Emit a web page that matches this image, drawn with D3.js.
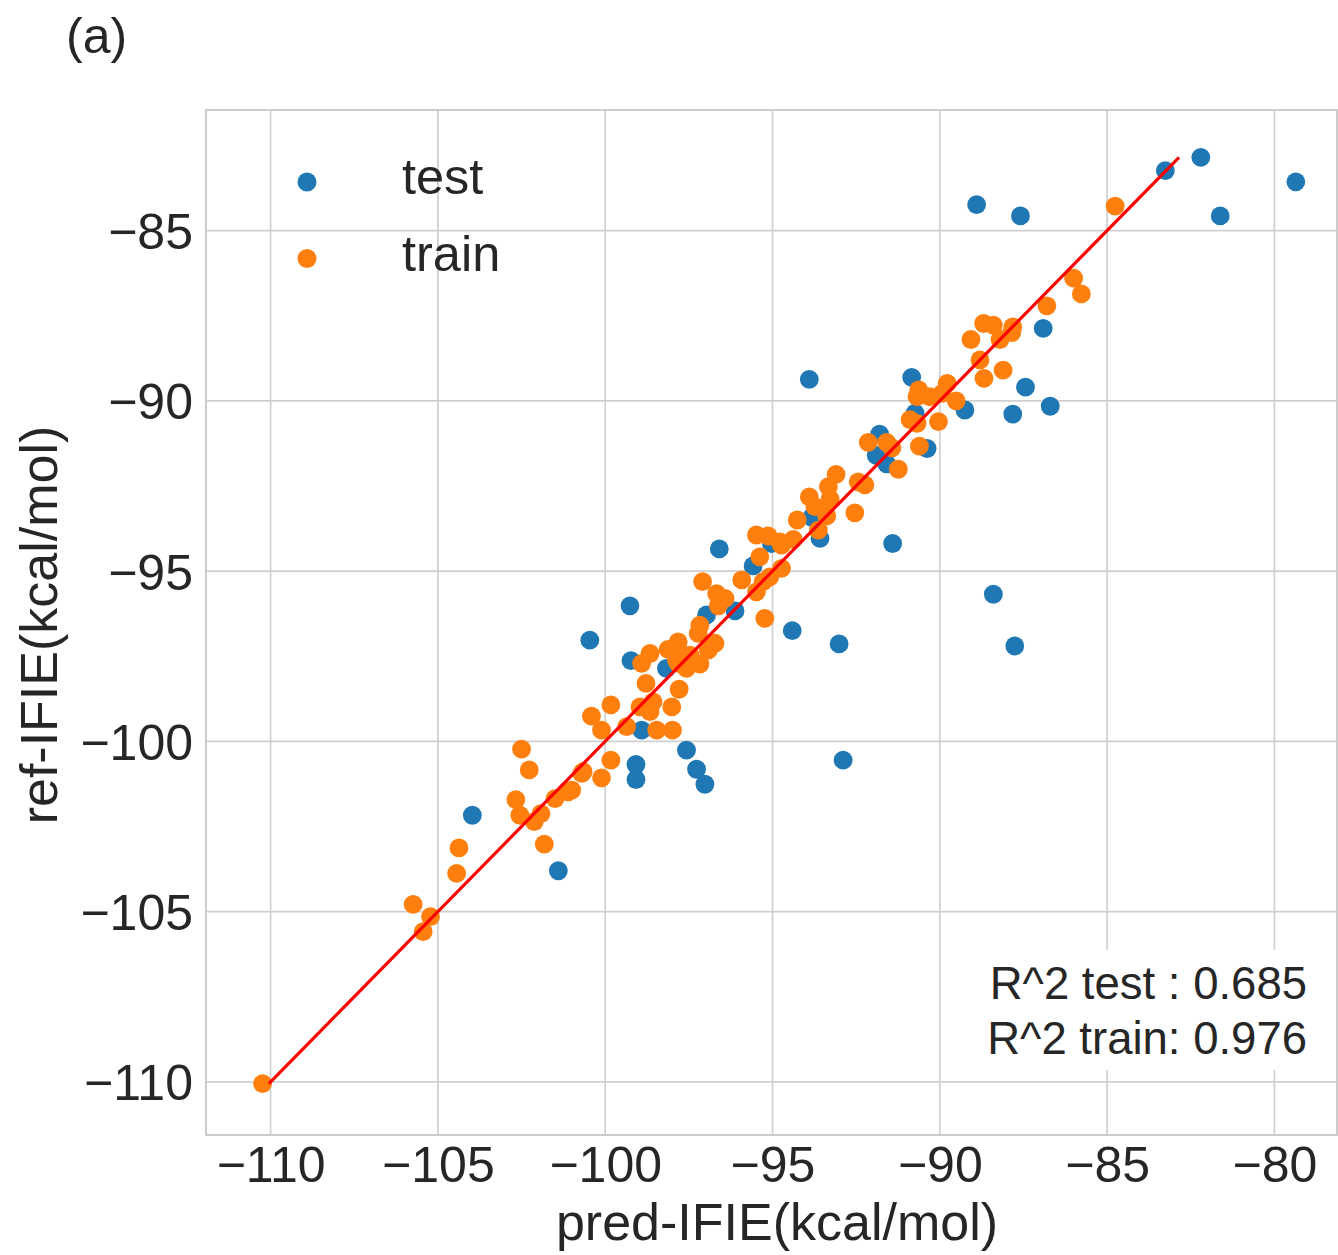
<!DOCTYPE html>
<html>
<head>
<meta charset="utf-8">
<script src="https://cdn.jsdelivr.net/npm/d3@7"></script>
<style>
  html, body { margin: 0; padding: 0; background: #fff; }
  svg { display: block; }
  text { font-family: "Liberation Sans", Arial, Helvetica, sans-serif; fill: #262626; }
</style>
</head>
<body>
<svg id="chart" width="1338" height="1255"></svg>
<script>
// Predicted vs reference IFIE (kcal/mol), test and train sets
const testPred = [
  -83.26, -82.20, -79.36, -81.62, -88.90, -87.59, -86.91, -93.90, -90.84, -87.44,
  -86.70, -87.82, -89.25, -90.74, -91.80, -90.38, -91.90, -91.59, -91.41, -88.40,
  -87.76, -94.41, -93.01, -93.58, -93.83, -96.59, -95.58, -95.03, -96.12, -96.97,
  -99.26, -100.46, -99.23, -98.17, -98.91, -97.57, -97.27, -97.02, -99.08, -99.08,
  -103.97, -101.40, -92.89
];
const testRef = [
  -83.24, -82.85, -83.57, -84.57, -84.24, -84.57, -87.87, -89.37, -89.31, -89.60,
  -90.16, -90.39, -90.27, -90.36, -90.98, -91.40, -91.60, -91.85, -94.19, -95.68,
  -97.20, -96.75, -97.14, -94.04, -93.42, -94.35, -94.85, -94.19, -96.17, -96.29,
  -96.02, -97.03, -97.63, -97.86, -99.67, -100.26, -100.82, -101.26, -100.68, -101.12,
  -102.17, -103.80, -100.55
];

const trainPred = [
  -84.76, -86.00, -85.77, -86.80, -88.69, -88.40, -87.82, -87.85, -88.20, -89.07,
  -88.80, -88.11, -88.68, -89.78, -90.63, -90.68, -90.31, -89.93, -89.51, -90.89,
  -90.68, -90.04, -92.14, -91.59, -91.43, -90.61,
  -91.24, -93.10, -93.33, -92.44, -92.24, -93.90, -93.28, -93.73, -92.54, -93.38,
  -94.26, -93.63, -94.38, -94.73, -94.73,
  -95.48, -95.13, -94.78, -95.38, -95.08, -95.28, -95.92, -95.48, -97.09, -96.67,
  -96.42, -96.62, -95.23, -97.17, -97.22, -96.72, -96.92, -97.82, -98.12, -97.47,
  -97.17, -97.82,
  -98.66, -98.91, -97.87, -97.57, -97.57, -98.78, -97.79, -98.57, -98.96, -98.66,
  -98.01, -99.83, -100.41, -100.11, -99.36, -98.46, -97.99, -99.83, -100.66, -100.11,
  -101.00,
  -102.50, -102.27, -100.70, -101.11, -101.50, -102.67, -101.92, -102.55, -102.12, -101.82,
  -104.37, -104.44,
  -105.74, -105.22, -105.44, -110.24
];
const trainRef = [
  -84.28, -86.40, -86.86, -87.21, -87.73, -87.78, -87.83, -88.00, -88.20, -88.20,
  -88.80, -89.10, -89.34, -89.49, -89.68, -89.88, -89.88, -89.78, -90.00, -90.55,
  -90.66, -90.61, -91.22, -91.22, -91.38, -91.33,
  -92.01, -92.16, -92.52, -92.38, -92.47, -92.82, -92.89, -93.11, -93.29, -93.38,
  -93.50, -93.80, -94.07, -94.24, -94.92,
  -93.94, -93.97, -94.14, -94.58, -95.17, -95.31, -95.26, -95.61, -95.31, -95.66,
  -95.80, -96.02, -96.39, -96.59, -96.83, -97.12, -97.32, -97.08, -97.30, -97.47,
  -97.73, -97.71,
  -97.42, -97.71, -97.61, -97.56, -97.86, -98.30, -98.47, -98.84, -98.99, -99.13,
  -98.99, -98.93, -99.26, -99.67, -99.57, -99.67, -99.67, -100.55, -100.89, -101.07,
  -101.43,
  -100.23, -100.84, -100.94, -101.48, -101.68, -101.71, -102.12, -102.17, -102.36, -103.02,
  -103.13, -103.88,
  -104.79, -105.15, -105.59, -110.05
];

const xTicks = [-110, -105, -100, -95, -90, -85, -80];
const yTicks = [-110, -105, -100, -95, -90, -85];
const seriesNames = ["test", "train"];
const seriesColors = ["#1f77b4", "#ff7f0e"];
const scoreLines = ["R^2 test : 0.685", "R^2 train: 0.976"];
const panelLabel = "(a)";
const xLabel = "pred-IFIE(kcal/mol)";
const yLabel = "ref-IFIE(kcal/mol)";

// ---- layout ----
const plot = { left: 206, right: 1337, top: 110, bottom: 1135 };
const x = d3.scaleLinear().domain([-111.93, -78.13]).range([plot.left, plot.right]);
const y = d3.scaleLinear().domain([-111.56, -81.46]).range([plot.bottom, plot.top]);
const fmt = d3.format("d");

const svg = d3.select("#chart");

svg.append("defs").append("clipPath").attr("id", "plotClip")
  .append("rect")
  .attr("x", plot.left).attr("y", plot.top)
  .attr("width", plot.right - plot.left).attr("height", plot.bottom - plot.top);

// grid
const grid = svg.append("g").attr("class", "grid");
grid.selectAll("line.vx").data(xTicks).join("line")
  .attr("x1", d => x(d)).attr("x2", d => x(d))
  .attr("y1", plot.top).attr("y2", plot.bottom)
  .attr("stroke", "#d0d0d0").attr("stroke-width", 1.7);
grid.selectAll("line.hy").data(yTicks).join("line")
  .attr("y1", d => y(d)).attr("y2", d => y(d))
  .attr("x1", plot.left).attr("x2", plot.right)
  .attr("stroke", "#d0d0d0").attr("stroke-width", 1.7);

// axes (labels only, no tick marks)
const xAxis = d3.axisBottom(x).tickValues(xTicks).tickFormat(fmt).tickSize(0).tickPadding(11.5);
const yAxis = d3.axisLeft(y).tickValues(yTicks).tickFormat(fmt).tickSize(0).tickPadding(13);

const gx = svg.append("g").attr("transform", `translate(0,${plot.bottom})`).call(xAxis);
const gy = svg.append("g").attr("transform", `translate(${plot.left},0)`).call(yAxis);
[gx, gy].forEach(g => {
  g.select(".domain").remove();
  g.selectAll("text")
    .style("font-family", '"Liberation Sans", Arial, Helvetica, sans-serif')
    .style("font-size", "50px")
    .style("fill", "#262626");
});
gy.selectAll("text").attr("dy", "0.36em");

// score box
const scoreBox = svg.append("g");
scoreBox.append("rect")
  .attr("x", 975).attr("y", 950).attr("width", 348).attr("height", 120)
  .attr("fill", "#fff");
scoreBox.selectAll("text").data(scoreLines).join("text")
  .attr("x", 1307).attr("y", (d, i) => 999 + i * 55)
  .attr("text-anchor", "end")
  .style("font-size", "45.5px")
  .text(d => d);

// points: test first, train above it
const plotArea = svg.append("g").attr("clip-path", "url(#plotClip)");
const testData = testPred.map((p, i) => ({ p, r: testRef[i] }));
const trainData = trainPred.map((p, i) => ({ p, r: trainRef[i] }));

plotArea.append("g").selectAll("circle").data(testData).join("circle")
  .attr("cx", d => x(d.p)).attr("cy", d => y(d.r)).attr("r", 9.4)
  .attr("fill", seriesColors[0]);
plotArea.append("g").selectAll("circle").data(trainData).join("circle")
  .attr("cx", d => x(d.p)).attr("cy", d => y(d.r)).attr("r", 9.4)
  .attr("fill", seriesColors[1]);

// identity line spanning the range of reference values
const refExtent = d3.extent(testRef.concat(trainRef));
plotArea.append("line")
  .attr("x1", x(refExtent[0])).attr("y1", y(refExtent[0]))
  .attr("x2", x(refExtent[1])).attr("y2", y(refExtent[1]))
  .attr("stroke", "#ff0000").attr("stroke-width", 3.2);

// frame
svg.append("rect")
  .attr("x", plot.left).attr("y", plot.top)
  .attr("width", plot.right - plot.left).attr("height", plot.bottom - plot.top)
  .attr("fill", "none").attr("stroke", "#cccccc").attr("stroke-width", 2);

// legend
const legend = svg.append("g");
seriesNames.forEach((name, i) => {
  legend.append("circle")
    .attr("cx", 307).attr("cy", 182 + i * 76.5).attr("r", 9.5)
    .attr("fill", seriesColors[i]);
  legend.append("text")
    .attr("x", 402).attr("y", 194 + i * 77)
    .style("font-size", "50.5px")
    .text(name);
});

// axis titles
svg.append("text")
  .attr("x", 777).attr("y", 1240)
  .attr("text-anchor", "middle")
  .style("font-size", "52px")
  .text(xLabel);
svg.append("text")
  .attr("transform", "translate(57,625) rotate(-90)")
  .attr("text-anchor", "middle")
  .style("font-size", "52px")
  .text(yLabel);

// panel label
svg.append("text")
  .attr("x", 66).attr("y", 53)
  .style("font-size", "50px")
  .text(panelLabel);
</script>
</body>
</html>
